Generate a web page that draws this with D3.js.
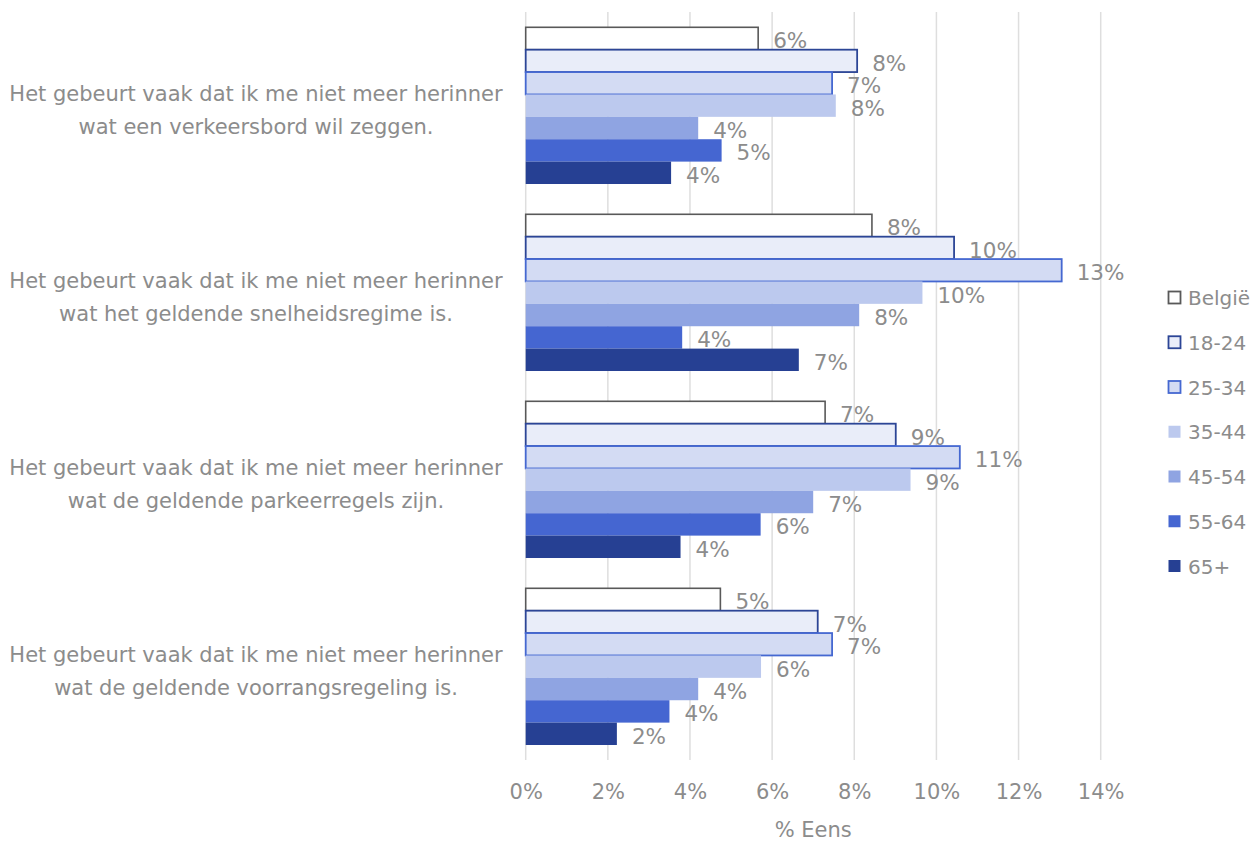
<!DOCTYPE html>
<html>
<head>
<meta charset="utf-8">
<script src="https://cdn.jsdelivr.net/npm/d3@7"></script>
<style>
  html, body { margin: 0; padding: 0; background: #fff; }
  svg { display: block; font-family: "DejaVu Sans", Verdana, sans-serif; }
</style>
</head>
<body>
<svg id="chart" width="1259" height="843"></svg>
<script>
// Statements (two lines each)
const categories = [
  ["Het gebeurt vaak dat ik me niet meer herinner", "wat een verkeersbord wil zeggen."],
  ["Het gebeurt vaak dat ik me niet meer herinner", "wat het geldende snelheidsregime is."],
  ["Het gebeurt vaak dat ik me niet meer herinner", "wat de geldende parkeerregels zijn."],
  ["Het gebeurt vaak dat ik me niet meer herinner", "wat de geldende voorrangsregeling is."]
];

// Groups
const seriesNames = ["België", "18-24", "25-34", "35-44", "45-54", "55-64", "65+"];

// % agreeing, one value per statement
const belgie  = [5.66, 8.43, 7.29, 4.74];
const age1824 = [8.07, 10.43, 9.01, 7.11];
const age2534 = [7.46, 13.05, 10.57, 7.46];
const age3544 = [7.55, 9.66, 9.37, 5.73];
const age4554 = [4.20, 8.12, 7.00, 4.20];
const age5564 = [4.77, 3.81, 5.72, 3.50];
const age65   = [3.54, 6.65, 3.77, 2.22];

const seriesValues = [belgie, age1824, age2534, age3544, age4554, age5564, age65];

const xTicks = [0, 2, 4, 6, 8, 10, 12, 14];
const axisTitle = "% Eens";

// Styling per series
const fills   = ["#ffffff", "#e9edf9", "#d3dbf3", "#bcc9ee", "#8fa4e2", "#4566d1", "#264093"];
const strokes = ["#595959", "#2c4596", "#4568d1", null, null, null, null];

const textColor = "#8c8c8c";
const svg = d3.select("#chart");

const x = d3.scaleLinear().domain([0, 14]).range([525.7, 1100.7]);
const catIdx = categories.map((_, i) => i);
const y0 = d3.scaleBand().domain(catIdx).range([12.15, 760.15])
  .paddingInner(0.162).paddingOuter(0.081);
const y1 = d3.scaleBand().domain(seriesNames).range([0, y0.bandwidth()]);

// Vertical gridlines
svg.append("g")
  .selectAll("line")
  .data(xTicks)
  .join("line")
  .attr("x1", d => x(d)).attr("x2", d => x(d))
  .attr("y1", 12).attr("y2", 760)
  .attr("stroke", "#dedede")
  .attr("stroke-width", 1.5);

// Bars
const groups = svg.append("g")
  .selectAll("g")
  .data(catIdx)
  .join("g")
  .attr("transform", c => `translate(0,${y0(c)})`);

groups.each(function (c) {
  const g = d3.select(this);
  const rows = seriesNames.map((name, s) => ({ name, s, v: seriesValues[s][c] }));
  g.selectAll("rect")
    .data(rows)
    .join("rect")
    .attr("x", x(0))
    .attr("y", d => y1(d.name))
    .attr("width", d => x(d.v) - x(0))
    .attr("height", y1.bandwidth())
    .attr("fill", d => fills[d.s])
    .attr("stroke", d => strokes[d.s] || "none")
    .attr("stroke-width", d => d.s === 0 ? 1.6 : 1.8);
  g.selectAll("text")
    .data(rows)
    .join("text")
    .attr("x", d => x(d.v) + 15)
    .attr("y", d => y1(d.name) + y1.bandwidth() / 2 + 10)
    .attr("fill", textColor)
    .attr("font-size", 21.5)
    .text(d => `${Math.round(d.v)}%`);
});

// Category labels
const catLabels = svg.append("g")
  .selectAll("text")
  .data(catIdx)
  .join("text")
  .attr("text-anchor", "middle")
  .attr("fill", textColor)
  .attr("font-size", 21);
catLabels.each(function (c) {
  const cy = y0(c) + y0.bandwidth() / 2;
  const t = d3.select(this);
  categories[c].forEach((line, k) => {
    t.append("tspan")
      .attr("x", 256)
      .attr("y", cy - 5 + k * 33)
      .text(line);
  });
});

// X axis tick labels
const xAxis = d3.axisBottom(x).tickValues(xTicks).tickSize(0).tickFormat(d => `${d}%`);
const axG = svg.append("g").attr("transform", "translate(0,781)").call(xAxis);
axG.select(".domain").remove();
axG.selectAll("text")
  .attr("fill", textColor)
  .attr("font-size", 21)
  .attr("font-family", "DejaVu Sans, Verdana, sans-serif")
  .attr("dy", "0.71em");

svg.append("text")
  .attr("x", x(7))
  .attr("y", 837)
  .attr("text-anchor", "middle")
  .attr("fill", textColor)
  .attr("font-size", 21)
  .text(axisTitle);

// Legend
const legend = svg.append("g")
  .selectAll("g")
  .data(seriesNames)
  .join("g")
  .attr("transform", (d, i) => `translate(1168,${297.5 + i * 44.75})`);
legend.append("rect")
  .attr("x", 0.5).attr("y", -6)
  .attr("width", 12).attr("height", 12)
  .attr("fill", (d, i) => fills[i])
  .attr("stroke", (d, i) => strokes[i] || "none")
  .attr("stroke-width", 1.8);
legend.append("text")
  .attr("x", 20)
  .attr("y", 7.5)
  .attr("fill", textColor)
  .attr("font-size", 20)
  .text(d => d);
</script>
</body>
</html>
